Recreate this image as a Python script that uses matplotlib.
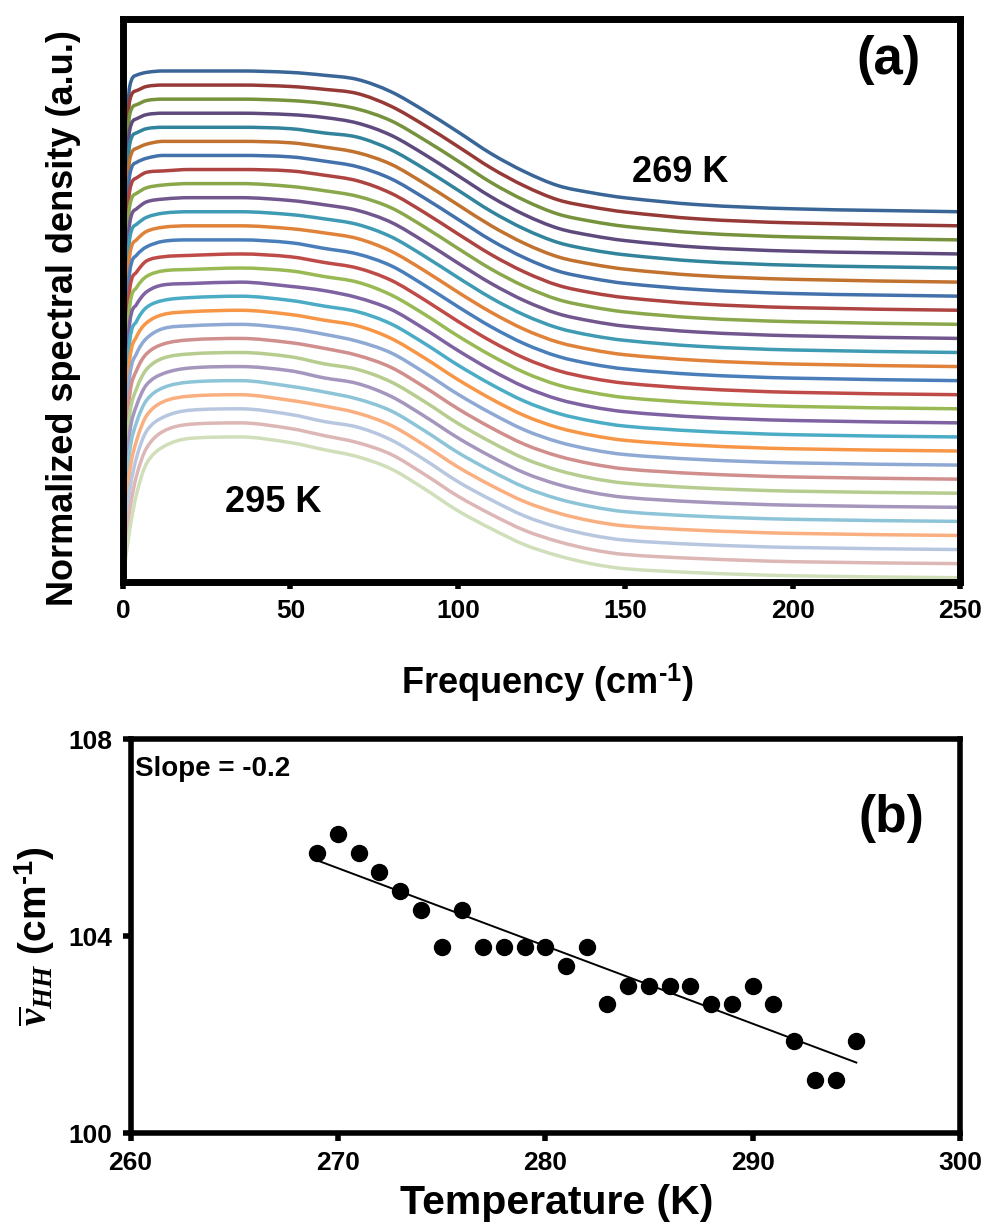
import numpy as np
import matplotlib
matplotlib.use('Agg')
import matplotlib.pyplot as plt
from matplotlib.path import Path
from matplotlib.patches import PathPatch

plt.rcParams['font.family'] = ['Liberation Sans', 'DejaVu Sans']
plt.rcParams['font.weight'] = 'bold'
plt.rcParams['mathtext.fontset'] = 'custom'
plt.rcParams['mathtext.rm'] = 'Liberation Sans:bold'
plt.rcParams['mathtext.bf'] = 'Liberation Sans:bold'
plt.rcParams['mathtext.it'] = 'Liberation Serif:italic'

# ---------------- panel (a) data ----------------
FREQ = [0, 2, 4, 7, 12, 20, 35, 50, 60, 70, 80, 90, 100, 110, 120, 130, 140, 150, 172, 200, 250]
TEMPS_A = list(range(269, 296))
OFFSETS = [2.63, 2.53, 2.43, 2.33, 2.23, 2.13, 2.03, 1.93, 1.83, 1.73, 1.63, 1.53, 1.43,
           1.33, 1.23, 1.13, 1.03, 0.93, 0.83, 0.73, 0.63, 0.53, 0.43, 0.33, 0.23, 0.13, 0.03]
SPECTRA = [
    [0, .89, .97, .99, 1.0, 1.0, 1.0, .99, .97, .94, .853, .718, .568, .412, .284, .185, .135, .099, .050, .021, 0],  # 269
    [0, .89, .96, .99, 1.0, 1.0, 1.0, .99, .97, .94, .850, .715, .564, .410, .282, .184, .134, .098, .049, .021, 0],  # 270
    [0, .89, .96, .99, 1.0, 1.0, 1.0, .99, .97, .93, .847, .711, .561, .407, .280, .183, .132, .096, .049, .021, 0],  # 271
    [0, .88, .96, .99, 1.0, 1.0, 1.0, .99, .97, .93, .844, .708, .557, .405, .278, .182, .131, .095, .048, .020, 0],  # 272
    [0, .88, .96, .99, 1.0, 1.0, 1.0, .99, .96, .93, .841, .705, .554, .402, .276, .181, .129, .094, .048, .020, 0],  # 273
    [0, .87, .95, .98, 1.0, 1.0, 1.0, .99, .96, .92, .838, .701, .550, .400, .274, .179, .128, .092, .047, .020, 0],  # 274
    [0, .86, .95, .98, 1.0, 1.0, 1.0, .99, .96, .92, .835, .698, .547, .397, .272, .178, .127, .091, .047, .019, 0],  # 275
    [0, .85, .94, .98, .99, 1.0, 1.0, .99, .96, .92, .832, .695, .543, .395, .271, .177, .125, .090, .046, .019, 0],  # 276
    [0, .84, .93, .97, .99, 1.0, 1.0, .98, .95, .91, .829, .692, .540, .392, .269, .176, .124, .088, .045, .019, 0],  # 277
    [0, .82, .92, .97, .99, 1.0, 1.0, .98, .95, .91, .826, .688, .536, .390, .267, .175, .123, .087, .045, .019, 0],  # 278
    [0, .81, .91, .96, .99, 1.0, 1.0, .98, .95, .91, .823, .685, .533, .387, .265, .174, .121, .086, .044, .018, 0],  # 279
    [0, .79, .90, .96, .99, 1.0, 1.0, .98, .95, .91, .820, .682, .529, .385, .263, .173, .120, .084, .044, .018, 0],  # 280
    [0, .77, .89, .95, .99, 1.0, 1.0, .98, .94, .90, .817, .678, .526, .382, .261, .172, .118, .083, .043, .018, 0],  # 281
    [0, .75, .87, .95, .98, .99, 1.0, .98, .94, .90, .814, .675, .522, .380, .259, .171, .117, .082, .043, .017, 0],  # 282
    [0, .73, .86, .94, .98, .99, 1.0, .98, .94, .90, .810, .672, .518, .378, .257, .169, .116, .080, .042, .017, 0],  # 283
    [0, .71, .84, .93, .98, .99, 1.0, .97, .94, .89, .807, .668, .515, .375, .255, .168, .114, .079, .041, .017, 0],  # 284
    [0, .68, .82, .92, .97, .99, 1.0, .97, .93, .89, .804, .665, .511, .373, .253, .167, .113, .077, .041, .016, 0],  # 285
    [0, .65, .81, .91, .97, .99, 1.0, .97, .93, .89, .801, .662, .508, .370, .251, .166, .112, .076, .040, .016, 0],  # 286
    [0, .63, .79, .90, .97, .99, 1.0, .97, .93, .88, .798, .658, .504, .368, .249, .165, .110, .075, .040, .016, 0],  # 287
    [0, .60, .77, .89, .96, .99, 1.0, .97, .93, .88, .795, .655, .501, .365, .247, .164, .109, .073, .039, .016, 0],  # 288
    [0, .56, .74, .88, .96, .99, 1.0, .97, .92, .88, .792, .652, .497, .363, .246, .163, .107, .072, .038, .015, 0],  # 289
    [0, .53, .72, .87, .95, .99, 1.0, .97, .92, .88, .789, .648, .494, .360, .244, .162, .106, .071, .038, .015, 0],  # 290
    [0, .50, .70, .86, .95, .99, 1.0, .96, .92, .87, .786, .645, .490, .358, .242, .160, .105, .069, .037, .015, 0],  # 291
    [0, .46, .67, .85, .95, .99, 1.0, .96, .92, .87, .783, .642, .487, .355, .240, .159, .103, .068, .037, .015, 0],  # 292
    [0, .42, .65, .84, .94, .99, 1.0, .96, .91, .87, .780, .639, .483, .353, .238, .158, .102, .067, .036, .015, 0],  # 293
    [0, .38, .62, .82, .94, .99, 1.0, .96, .91, .86, .777, .635, .480, .350, .236, .157, .100, .065, .036, .014, 0],  # 294
    [0, .34, .59, .81, .93, .99, 1.0, .96, .91, .86, .774, .632, .476, .348, .234, .156, .099, .064, .035, .014, 0],  # 295
]
COLORS = ['#3A6597', '#963A37', '#76923C', '#5F4A7D', '#31849B', '#C1722F',
          '#4371AC', '#AE4441', '#8AA84B', '#72578F', '#3F9AB3', '#E0823A',
          '#4A7EBB', '#BE4B48', '#98B954', '#7E62A1', '#4BACC6', '#F79646',
          '#8EA9D3', '#D08E8C', '#B7CC8F', '#A596BE', '#8DC4D7', '#F9AF80',
          '#B8C7E0', '#DDB7B6', '#D0DFBA']

# ---------------- panel (b) data ----------------
TEMPS_B = list(range(269, 296))
NU_HH = [105.69, 106.07, 105.69, 105.30, 104.92, 104.54, 103.78, 104.54, 103.78, 103.78,
         103.78, 103.78, 103.40, 103.78, 102.62, 103.00, 103.00, 103.00, 103.00, 102.62,
         102.62, 103.00, 102.62, 101.87, 101.09, 101.09, 101.87]


def smoothed_path(x, y):
    """Excel-style smoothed line: cubic Bezier segments through the data points
    (Catmull-Rom tangents with Fritsch-Carlson limiting to avoid overshoot)."""
    x = np.asarray(x, float)
    y = np.asarray(y, float)
    h = np.diff(x)
    d = np.diff(y) / h
    n = len(x)
    m = np.zeros(n)
    m[0], m[-1] = d[0], d[-1]
    for k in range(1, n - 1):
        if d[k - 1] * d[k] <= 0:
            m[k] = 0.0
        else:
            m[k] = (y[k + 1] - y[k - 1]) / (x[k + 1] - x[k - 1])
    for k in range(n - 1):
        if d[k] == 0:
            m[k] = m[k + 1] = 0.0
            continue
        a = m[k] / d[k]
        b = m[k + 1] / d[k]
        if a < 0:
            m[k] = 0.0
            a = 0.0
        if b < 0:
            m[k + 1] = 0.0
            b = 0.0
        r = a * a + b * b
        if r > 9:
            t = 3.0 / np.sqrt(r)
            m[k] = t * a * d[k]
            m[k + 1] = t * b * d[k]
    verts = [(x[0], y[0])]
    codes = [Path.MOVETO]
    for k in range(n - 1):
        verts += [(x[k] + h[k] / 3, y[k] + m[k] * h[k] / 3),
                  (x[k + 1] - h[k] / 3, y[k + 1] - m[k + 1] * h[k] / 3),
                  (x[k + 1], y[k + 1])]
        codes += [Path.CURVE4] * 3
    return Path(verts, codes)


fig = plt.figure(figsize=(9.88, 12.28), dpi=100)

# ---------------- panel (a) ----------------
ax1 = fig.add_axes([0.1245, 0.5261, 0.8472, 0.4585])
for off, spec, col in zip(OFFSETS, SPECTRA, COLORS):
    yv = off + np.array(spec)
    ax1.add_patch(PathPatch(smoothed_path(FREQ, yv), fill=False, edgecolor=col,
                            lw=2.5, capstyle='round', joinstyle='round', zorder=2))
ax1.set_xlim(0, 250)
ax1.set_ylim(0, 4)
ax1.set_xticks([0, 50, 100, 150, 200, 250])
ax1.set_yticks([])
for s in ax1.spines.values():
    s.set_linewidth(5)
    s.set_zorder(5)
ax1.tick_params(axis='x', direction='out', length=5, width=4, labelsize=19, pad=7)
ax1.set_xlabel('Frequency (cm$^{\\mathbf{\u20101}}$)', fontsize=26, fontweight='bold')
ax1.xaxis.set_label_coords(0.507, -0.142)
ax1.xaxis.label.set_va('top')
ax1.set_ylabel('Normalized spectral density (a.u.)', fontsize=26, fontweight='bold')
ax1.yaxis.set_label_coords(-0.05, 0.469)
ax1.text(152, 2.84, '269 K', fontsize=26, fontweight='bold', ha='left', va='baseline')
ax1.text(30.5, 0.50, '295 K', fontsize=26, fontweight='bold', ha='left', va='baseline')
ax1.text(228.5, 3.71, '(a)', fontsize=38, fontweight='bold', ha='center', va='center')

# ---------------- panel (b) ----------------
ax2 = fig.add_axes([0.1321, 0.0771, 0.8396, 0.3208])
tb = np.array(TEMPS_B, dtype=float)
nb = np.array(NU_HH)
coef = np.polyfit(tb, nb, 1)
ax2.plot(tb, np.polyval(coef, tb), color='black', lw=1.4, zorder=2)
ax2.plot(tb, nb, 'o', color='black', markersize=11.5, zorder=3)
ax2.set_xlim(260, 300)
ax2.set_ylim(100, 108)
ax2.set_xticks([260, 270, 280, 290, 300])
ax2.set_yticks([100, 104, 108])
for s in ax2.spines.values():
    s.set_linewidth(4)
    s.set_zorder(5)
ax2.tick_params(axis='both', direction='out', length=6, width=4, labelsize=19, pad=7)
ax2.set_xlabel('Temperature (K)', fontsize=29.5, fontweight='bold')
ax2.xaxis.set_label_coords(0.514, -0.128)
ax2.xaxis.label.set_va('top')
ax2.set_ylabel('$\\overline{v}_{HH}$ (cm$^{\\mathbf{\u20101}}$)', fontsize=28, fontweight='bold', labelpad=8)
ax2.text(260.2, 107.4, 'Slope = -0.2', fontsize=20, fontweight='bold', ha='left', va='center')
ax2.text(296.7, 106.4, '(b)', fontsize=37, fontweight='bold', ha='center', va='center')

fig.savefig('out.png', dpi=100)
